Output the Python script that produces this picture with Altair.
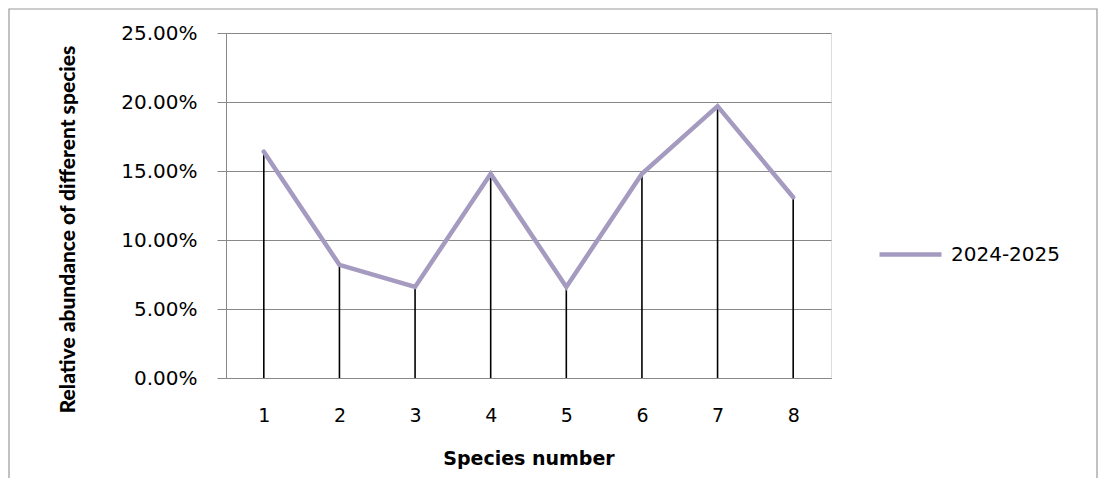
import altair as alt
import pandas as pd

species = ["1", "2", "3", "4", "5", "6", "7", "8"]
abundance = [0.164, 0.082, 0.066, 0.148, 0.066, 0.148, 0.197, 0.131]
series_name = "2024-2025"
y_ticks = [0.0, 0.05, 0.10, 0.15, 0.20, 0.25]

df = pd.DataFrame({"species": species, "value": abundance, "series": [series_name] * len(species)})

W, H = 605, 345
FONT = "DejaVu Sans"
TITLE_FONT = "Lato"

x_enc = alt.X("species:O", sort=species,
              scale=alt.Scale(type="point", padding=0.5),
              axis=alt.Axis(title="Species number", labelAngle=0, ticks=False, domain=True,
                            domainColor="#888888", labelFont=FONT, labelFontSize=19,
                            labelColor="#000000", labelPadding=28,
                            titleFont=FONT, titleFontSize=19, titleFontWeight="bold",
                            titleColor="#000000", titlePadding=24))
y_enc = alt.Y("value:Q", scale=alt.Scale(domain=[0, 0.25], nice=False),
              axis=alt.Axis(title="Relative abundance of different species", values=y_ticks,
                            format=".2%", grid=True, gridColor="#888888", gridWidth=1,
                            domainColor="#888888", tickColor="#888888", tickSize=9,
                            labelFont=FONT, labelFontSize=20, labelColor="#000000",
                            labelPadding=20, titleFont=TITLE_FONT, titleFontSize=21,
                            titleFontWeight=900, titleColor="#000000", titlePadding=42,
                            titleY=196))

base = alt.Chart(df)

drops = base.mark_rule(color="#000000", strokeWidth=1.6).encode(
    x=x_enc, y=y_enc, y2=alt.datum(0))

line = base.mark_line(strokeWidth=4.5, strokeCap="round").encode(
    x=alt.X("species:O", sort=species),
    y=alt.Y("value:Q"),
    color=alt.Color("series:N", scale=alt.Scale(range=["#A59ABF"]),
                    legend=alt.Legend(title=None, orient="none", legendX=651, legendY=188,
                                      symbolType="stroke", symbolSize=3844,
                                      symbolStrokeWidth=4.5, labelFont=FONT,
                                      labelFontSize=20, labelColor="#000000",
                                      labelOffset=7, padding=0)))

border = alt.Chart(pd.DataFrame({"a": [0]})).mark_rect(
    fill=None, stroke="#999999", strokeWidth=1.2).encode(
    x=alt.value(-217), x2=alt.value(871), y=alt.value(-24), y2=alt.value(453))

chart = alt.layer(border, drops, line).properties(
    width=W, height=H,
    autosize=alt.AutoSizeParams(type="none"),
    padding={"left": 218, "top": 25, "right": 267, "bottom": 100},
).configure_view(stroke=None).configure(background="#ffffff")

chart.save("out.html", embed_options={"renderer": "svg", "actions": False})
